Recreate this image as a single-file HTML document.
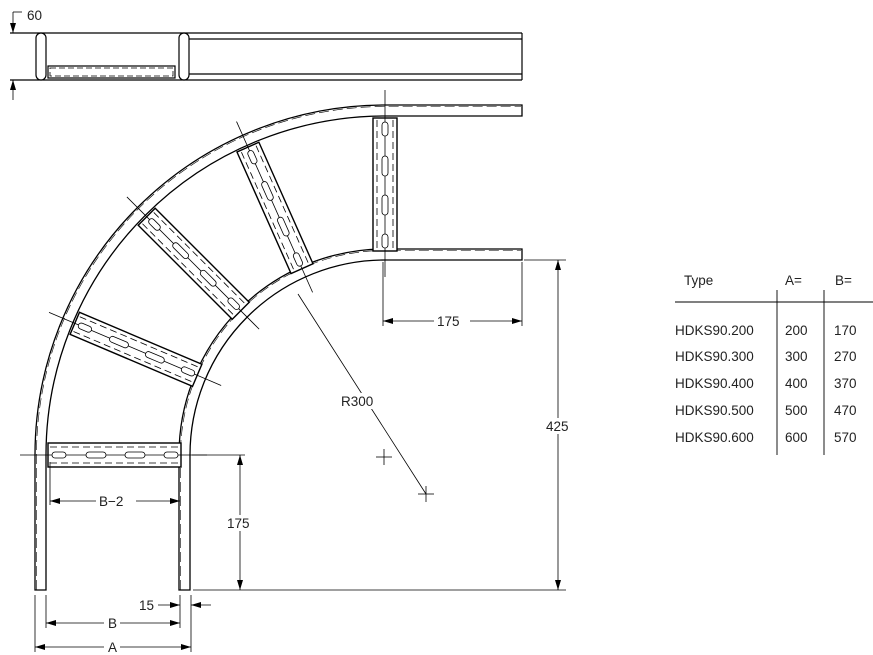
<!DOCTYPE html>
<html><head><meta charset="utf-8"><style>
html,body{margin:0;padding:0;background:#fff;}
svg{display:block;}
text{font-family:"Liberation Sans",sans-serif;font-size:13.5px;fill:#222;}
</style></head><body>
<svg width="873" height="655" viewBox="0 0 873 655" xmlns="http://www.w3.org/2000/svg">
<defs>
<marker id="ar" viewBox="0 0 10 6" refX="10" refY="3" markerWidth="10" markerHeight="6" orient="auto-start-reverse" markerUnits="userSpaceOnUse"><path d="M0,0 L10,3 L0,6 Z" fill="#000"/></marker>
<g id="rung">
<rect x="-337" y="-12" width="133" height="24" fill="#fff" stroke="#000" stroke-width="1.4"/>
<line x1="-335" y1="-8" x2="-206" y2="-8" stroke="#000" stroke-width="0.8" stroke-dasharray="7,4"/>
<line x1="-335" y1="8" x2="-206" y2="8" stroke="#000" stroke-width="0.8" stroke-dasharray="7,4"/>
<line x1="-365" y1="0" x2="-178" y2="0" stroke="#000" stroke-width="0.8"/>
<rect x="-333" y="-3" width="14" height="6" rx="3" fill="#fff" stroke="#000" stroke-width="0.8"/>
<rect x="-299" y="-3" width="20" height="6" rx="3" fill="#fff" stroke="#000" stroke-width="0.8"/>
<rect x="-260" y="-3" width="20" height="6" rx="3" fill="#fff" stroke="#000" stroke-width="0.8"/>
<rect x="-221" y="-3" width="14" height="6" rx="3" fill="#fff" stroke="#000" stroke-width="0.8"/>
</g>
</defs>

<!-- top view -->
<g stroke="#000" stroke-width="1.2" fill="none">
<line x1="10" y1="33" x2="522" y2="33"/>
<line x1="10" y1="80" x2="522" y2="80"/>
<line x1="522" y1="33" x2="522" y2="80"/>
<line x1="189" y1="39" x2="522" y2="39"/>
<line x1="189" y1="74" x2="522" y2="74"/>
<rect x="36" y="33" width="10" height="47" rx="5" fill="#fff"/>
<rect x="179" y="33" width="10" height="47" rx="5" fill="#fff"/>
<rect x="48" y="66" width="127" height="12"/>
<rect x="50" y="68" width="123" height="8" stroke-dasharray="6,3" stroke-width="0.8"/>
</g>
<g stroke="#000" stroke-width="0.8">
<line x1="13" y1="12" x2="22" y2="12"/>
<line x1="13" y1="12" x2="13" y2="33" marker-end="url(#ar)"/>
<line x1="13" y1="100" x2="13" y2="80" marker-end="url(#ar)"/>
</g>
<text x="27" y="20">60</text>

<!-- rails -->
<g stroke="#000" stroke-width="1.3" fill="#fff">
<path d="M35,590 L35,455 A350 350 0 0 1 385,105 L522,105 L522,116 L385,116 A339 339 0 0 0 46,455 L46,590 Z"/>
<path d="M179,590 L179,455 A206 206 0 0 1 385,249 L522,249 L522,260 L385,260 A195 195 0 0 0 190,455 L190,590 Z"/>
</g>
<g stroke="#000" stroke-width="0.6" fill="none" stroke-dasharray="10,4">
<path d="M36.5,590 L36.5,455 A348.5 348.5 0 0 1 385,106.5 L521,106.5"/>
<path d="M180.5,590 L180.5,455 A204.5 204.5 0 0 1 385,250.5 L521,250.5"/>
</g>

<!-- rungs -->
<use href="#rung" transform="translate(385,455) rotate(0)"/>
<use href="#rung" transform="translate(385,455) rotate(23)"/>
<use href="#rung" transform="translate(385,455) rotate(45)"/>
<use href="#rung" transform="translate(385,455) rotate(66)"/>
<use href="#rung" transform="translate(385,455) rotate(90)"/>

<!-- R300 and centers -->
<g stroke="#000" stroke-width="0.8">
<line x1="426" y1="494" x2="298" y2="294"/>
<line x1="376" y1="457" x2="392" y2="457"/>
<line x1="384" y1="449" x2="384" y2="465"/>
<line x1="418" y1="494" x2="434" y2="494"/>
<line x1="426" y1="486" x2="426" y2="502"/>
</g>
<rect x="340" y="393" width="42" height="16" fill="#fff"/>
<text x="341" y="406">R300</text>

<!-- dimensions right -->
<g stroke="#000" stroke-width="0.8">
<line x1="383" y1="262" x2="383" y2="326"/>
<line x1="522" y1="262" x2="522" y2="326"/>
<line x1="383" y1="321" x2="522" y2="321" marker-start="url(#ar)" marker-end="url(#ar)"/>
<line x1="524" y1="260" x2="566" y2="260"/>
<line x1="193" y1="590" x2="566" y2="590"/>
<line x1="558" y1="260" x2="558" y2="590" marker-start="url(#ar)" marker-end="url(#ar)"/>
<line x1="192" y1="455" x2="245" y2="455"/>
<line x1="240" y1="455" x2="240" y2="590" marker-start="url(#ar)" marker-end="url(#ar)"/>
<line x1="50" y1="462" x2="50" y2="505"/>
<line x1="50" y1="501" x2="180" y2="501" marker-start="url(#ar)" marker-end="url(#ar)"/>
<line x1="35" y1="595" x2="35" y2="652"/>
<line x1="46" y1="595" x2="46" y2="628"/>
<line x1="180" y1="595" x2="180" y2="628"/>
<line x1="191" y1="595" x2="191" y2="652"/>
<line x1="158" y1="605" x2="180" y2="605" marker-end="url(#ar)"/>
<line x1="211" y1="605" x2="191" y2="605" marker-end="url(#ar)"/>
<line x1="46" y1="623" x2="180" y2="623" marker-start="url(#ar)" marker-end="url(#ar)"/>
<line x1="35" y1="647" x2="191" y2="647" marker-start="url(#ar)" marker-end="url(#ar)"/>
</g>
<g>
<rect x="434" y="314" width="36" height="14" fill="#fff"/><text x="437" y="326">175</text>
<rect x="544" y="418" width="30" height="16" fill="#fff"/><text x="546" y="431">425</text>
<rect x="226" y="515" width="30" height="16" fill="#fff"/><text x="227" y="528">175</text>
<rect x="96" y="494" width="40" height="14" fill="#fff"/><text x="99" y="506">B−2</text>
<text x="139" y="610">15</text>
<rect x="104" y="616" width="16" height="14" fill="#fff"/><text x="108" y="628">B</text>
<rect x="104" y="640" width="16" height="14" fill="#fff"/><text x="108" y="652">A</text>
</g>

<!-- table -->
<g stroke="#000" stroke-width="0.9">
<line x1="675" y1="302" x2="873" y2="302"/>
<line x1="777" y1="290" x2="777" y2="455"/>
<line x1="824" y1="290" x2="824" y2="455"/>
</g>
<text x="684" y="285">Type</text>
<text x="785" y="285">A=</text>
<text x="835" y="285">B=</text>
<text x="675" y="335">HDKS90.200</text><text x="785" y="335">200</text><text x="834" y="335">170</text>
<text x="675" y="361">HDKS90.300</text><text x="785" y="361">300</text><text x="834" y="361">270</text>
<text x="675" y="388">HDKS90.400</text><text x="785" y="388">400</text><text x="834" y="388">370</text>
<text x="675" y="415">HDKS90.500</text><text x="785" y="415">500</text><text x="834" y="415">470</text>
<text x="675" y="442">HDKS90.600</text><text x="785" y="442">600</text><text x="834" y="442">570</text>
</svg>
</body></html>
